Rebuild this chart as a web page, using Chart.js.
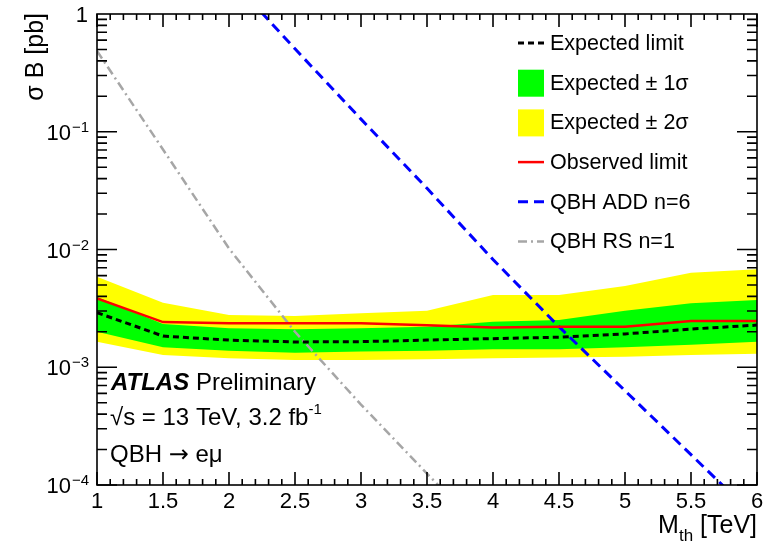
<!DOCTYPE html>
<html>
<head>
<meta charset="utf-8">
<script src="https://cdn.jsdelivr.net/npm/chart.js@4.4.0/dist/chart.umd.min.js"></script>
<style>body{margin:0;background:#fff}</style>
</head>
<body>
<canvas id="myChart" width="773" height="547"></canvas>
<script>
// M_th points [TeV]
var mass = [1, 1.5, 2, 2.5, 3, 3.5, 4, 4.5, 5, 5.5, 6];

// limits on sigma x B [pb]
var expected   = [2.91e-3, 1.84e-3, 1.70e-3, 1.64e-3, 1.65e-3, 1.70e-3, 1.75e-3, 1.80e-3, 1.92e-3, 2.11e-3, 2.28e-3];
var observed   = [3.85e-3, 2.42e-3, 2.36e-3, 2.36e-3, 2.36e-3, 2.27e-3, 2.18e-3, 2.21e-3, 2.21e-3, 2.47e-3, 2.47e-3];
var oneSigUp   = [3.95e-3, 2.33e-3, 2.14e-3, 2.10e-3, 2.14e-3, 2.21e-3, 2.44e-3, 2.52e-3, 3.02e-3, 3.49e-3, 3.72e-3];
var oneSigDown = [2.00e-3, 1.48e-3, 1.38e-3, 1.33e-3, 1.36e-3, 1.38e-3, 1.42e-3, 1.42e-3, 1.48e-3, 1.55e-3, 1.65e-3];
var twoSigUp   = [5.87e-3, 3.53e-3, 2.78e-3, 2.72e-3, 2.87e-3, 3.02e-3, 4.11e-3, 4.11e-3, 4.90e-3, 6.35e-3, 6.79e-3];
var twoSigDown = [1.65e-3, 1.27e-3, 1.19e-3, 1.15e-3, 1.15e-3, 1.17e-3, 1.19e-3, 1.21e-3, 1.23e-3, 1.27e-3, 1.30e-3];

// signal models
var qbhAdd = [null, null, 2.06, 0.506, 0.128, 0.0331, 8.22e-3, 2.21e-3, 6.32e-4, 1.81e-4, 5.18e-5];
var qbhRs  = [0.485, 0.0707, 0.0102, 2.0e-3, 4.82e-4, 1.25e-4, 3.3e-5, null, null, null, null];

// axis ticks
var xTicks = [1, 1.5, 2, 2.5, 3, 3.5, 4, 4.5, 5, 5.5, 6];
var yTicks = [1e-4, 1e-3, 1e-2, 1e-1, 1];
var yTickExp = ['\u22124', '\u22123', '\u22122', '\u22121', ''];

var legendLabels = ['Expected limit', 'Expected \u00b1 1\u03c3', 'Expected \u00b1 2\u03c3', 'Observed limit', 'QBH ADD n=6', 'QBH RS n=1'];

var fnt = '"Liberation Sans", Arial, Helvetica, sans-serif';

function pts(vals) {
    var out = [];
    for (var i = 0; i < mass.length; i++) {
        out.push({x: mass[i], y: vals[i]});
    }
    return out;
}

// inner ticks on all four sides + frame + texts
var framePlugin = {
    id: 'frame',
    afterDraw: function(chart) {
        var ctx = chart.ctx, a = chart.chartArea;
        var xs = chart.scales.x, ys = chart.scales.y;
        ctx.save();
        ctx.strokeStyle = '#000';
        ctx.lineWidth = 1.6;
        ctx.strokeRect(a.left, a.top, a.right - a.left, a.bottom - a.top);
        ctx.beginPath();
        for (var i = 10; i <= 60; i++) {
            var px = xs.getPixelForValue(i / 10);
            var len = (i % 5 == 0) ? 13 : 6;
            ctx.moveTo(px, a.bottom); ctx.lineTo(px, a.bottom - len);
            ctx.moveTo(px, a.top); ctx.lineTo(px, a.top + len);
        }
        for (var d = -4; d < 0; d++) {
            for (var k = 1; k <= 9; k++) {
                var py = ys.getPixelForValue(k * Math.pow(10, d));
                var l2 = (k == 1) ? 20 : 10;
                ctx.moveTo(a.left, py); ctx.lineTo(a.left + l2, py);
                ctx.moveTo(a.right, py); ctx.lineTo(a.right - l2, py);
            }
        }
        ctx.stroke();

        // y labels with superscript exponents
        ctx.fillStyle = '#000';
        ctx.textBaseline = 'middle';
        for (var j = 0; j < yTicks.length; j++) {
            var yy = ys.getPixelForValue(yTicks[j]);
            if (yTickExp[j] == '') {
                ctx.font = '22px ' + fnt;
                ctx.textAlign = 'right';
                ctx.fillText('1', 88, yy + 2);
            } else {
                ctx.font = '15px ' + fnt;
                ctx.textAlign = 'right';
                ctx.fillText(yTickExp[j], 89, yy - 4);
                var w = ctx.measureText(yTickExp[j]).width;
                ctx.font = '22px ' + fnt;
                ctx.fillText('10', 89 - w - 1, yy + 2);
            }
        }

        // axis titles
        ctx.textBaseline = 'alphabetic';
        ctx.font = '25px ' + fnt;
        ctx.textAlign = 'right';
        ctx.fillText('[TeV]', a.right, 533);
        var w1 = ctx.measureText(' [TeV]').width;
        ctx.font = '17px ' + fnt;
        ctx.fillText('th', a.right - w1, 541);
        var w2 = ctx.measureText('th').width;
        ctx.font = '25px ' + fnt;
        ctx.fillText('M', a.right - w1 - w2, 533);

        ctx.save();
        ctx.translate(43, 13);
        ctx.rotate(-Math.PI / 2);
        ctx.textAlign = 'right';
        ctx.fillText('\u03c3 B [pb]', 0, 0);
        ctx.restore();

        // ATLAS label
        ctx.textAlign = 'left';
        ctx.font = 'italic bold 24px ' + fnt;
        ctx.fillText('ATLAS', 111, 390);
        var wa = ctx.measureText('ATLAS').width;
        ctx.font = '24px ' + fnt;
        ctx.fillText(' Preliminary', 111 + wa, 390);
        ctx.fillText('\u221as = 13 TeV, 3.2 fb', 110, 425);
        var ws = ctx.measureText('\u221as = 13 TeV, 3.2 fb').width;
        ctx.font = '15px ' + fnt;
        ctx.fillText('-1', 110 + ws, 414);
        ctx.font = '24px ' + fnt;
        ctx.fillText('QBH ', 110, 462);
        var wq = ctx.measureText('QBH ').width;
        ctx.font = '24px "DejaVu Sans"';
        ctx.fillText('\u2192', 110 + wq, 462);
        var wr = ctx.measureText('\u2192').width;
        ctx.font = '24px ' + fnt;
        ctx.fillText(' e\u03bc', 110 + wq + wr, 462);

        // legend
        var ds = chart.data.datasets;
        var order = [0, 4, 6, 1, 2, 3];
        for (var n = 0; n < order.length; n++) {
            var d0 = ds[order[n]];
            var cy = 43 + n * 39.7;
            if (d0.fill) {
                ctx.fillStyle = d0.backgroundColor;
                ctx.fillRect(518, cy - 13, 26, 27);
            } else {
                ctx.save();
                ctx.strokeStyle = d0.borderColor;
                ctx.lineWidth = d0.borderWidth;
                ctx.setLineDash(d0.borderDash || []);
                ctx.beginPath();
                ctx.moveTo(518, cy);
                ctx.lineTo(544, cy);
                ctx.stroke();
                ctx.restore();
            }
            ctx.fillStyle = '#000';
            ctx.font = '21.5px ' + fnt;
            ctx.textBaseline = 'middle';
            ctx.fillText(legendLabels[n], 550, cy + 1);
            ctx.textBaseline = 'alphabetic';
        }
        ctx.restore();
    }
};

var ctx = document.getElementById('myChart').getContext('2d');
var chart = new Chart(ctx, {
    type: 'line',
    data: {
        datasets: [
            { label: 'Expected limit', data: pts(expected), borderColor: '#000', borderWidth: 3, borderDash: [6, 4], pointRadius: 0, fill: false },
            { label: 'Observed limit', data: pts(observed), borderColor: '#ff0000', borderWidth: 2.5, pointRadius: 0, fill: false },
            { label: 'QBH ADD n=6', data: pts(qbhAdd), borderColor: '#0000ff', borderWidth: 3, borderDash: [10, 6], pointRadius: 0, fill: false },
            { label: 'QBH RS n=1', data: pts(qbhRs), borderColor: '#a6a6a6', borderWidth: 2.5, borderDash: [9, 4, 2, 4], pointRadius: 0, fill: false },
            { label: '1 sigma up', data: pts(oneSigUp), borderWidth: 0, borderColor: 'rgba(0,0,0,0)', backgroundColor: '#00ff00', pointRadius: 0, fill: '+1' },
            { label: '1 sigma down', data: pts(oneSigDown), borderWidth: 0, borderColor: 'rgba(0,0,0,0)', pointRadius: 0, fill: false },
            { label: '2 sigma up', data: pts(twoSigUp), borderWidth: 0, borderColor: 'rgba(0,0,0,0)', backgroundColor: '#ffff00', pointRadius: 0, fill: '+1' },
            { label: '2 sigma down', data: pts(twoSigDown), borderWidth: 0, borderColor: 'rgba(0,0,0,0)', pointRadius: 0, fill: false }
        ]
    },
    options: {
        responsive: false,
        animation: false,
        layout: { padding: { left: 0, top: 14, right: 16, bottom: 0 } },
        plugins: { legend: { display: false }, tooltip: { enabled: false } },
        scales: {
            x: {
                type: 'linear', min: 1, max: 6,
                afterBuildTicks: function(s) { s.ticks = xTicks.map(function(v) { return {value: v}; }); },
                afterFit: function(s) { s.height = 62; },
                grid: { display: false },
                border: { display: false },
                ticks: {
                    color: '#000', padding: -4, maxRotation: 0, autoSkip: false,
                    font: { family: fnt, size: 22 },
                    callback: function(v) { return String(v); }
                }
            },
            y: {
                type: 'logarithmic', min: 1e-4, max: 1,
                afterFit: function(s) { s.width = 97; },
                grid: { display: false },
                border: { display: false },
                ticks: { display: false }
            }
        }
    },
    plugins: [framePlugin]
});
</script>
</body>
</html>
